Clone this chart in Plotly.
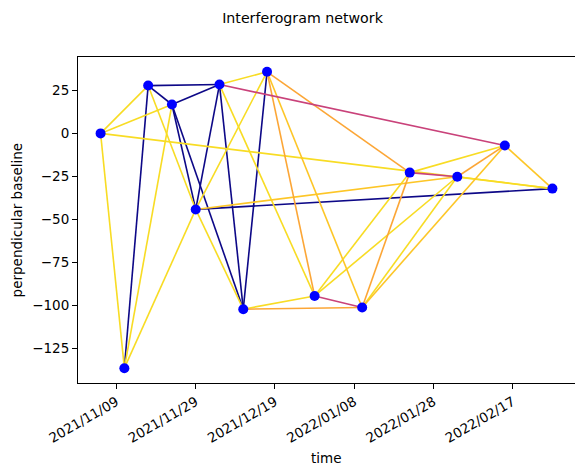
import plotly.graph_objects as go
import pandas as pd

# ---- data ----
dates = ["2021-11-05", "2021-11-11", "2021-11-17", "2021-11-23", "2021-11-29",
         "2021-12-05", "2021-12-11", "2021-12-17", "2021-12-29", "2022-01-10",
         "2022-01-22", "2022-02-03", "2022-02-15", "2022-02-27"]
bperp = [0.0, -136.5, 27.8, 16.8, -44.2, 28.4, -102.2, 35.8, -94.5, -101.2,
         -22.8, -25.2, -7.0, -32.1]

# interferogram pairs (1-based indices into dates) and their colour class
edge_start = [2, 3, 3, 4, 4, 4, 5, 6, 7, 5,
              1, 1, 1, 2, 2, 3, 5, 5, 6, 6, 7, 9, 9, 10, 11, 1, 12,
              8, 13, 5, 10,
              8, 8, 7, 10, 12,
              6, 9, 11]
edge_end = [3, 4, 6, 5, 6, 7, 6, 7, 8, 14,
            2, 3, 4, 4, 5, 5, 7, 8, 8, 9, 9, 11, 12, 12, 13, 14, 14,
            10, 14, 12, 13,
            9, 11, 10, 11, 13,
            13, 10, 12]
edge_class = ["low"] * 10 + ["top"] * 17 + ["high"] * 4 + ["mid"] * 5 + ["midlow"] * 3

class_colors = {
    "low": "#0d0887",
    "midlow": "#c9427a",
    "mid": "#fca636",
    "high": "#fdc627",
    "top": "#f8dc24",
}

x = pd.to_datetime(dates)
fig = go.Figure()

for s, e, c in zip(edge_start, edge_end, edge_class):
    fig.add_trace(go.Scatter(
        x=[x[s - 1], x[e - 1]], y=[bperp[s - 1], bperp[e - 1]],
        mode="lines", line=dict(color=class_colors[c], width=1.6),
        showlegend=False, hoverinfo="skip"))

fig.add_trace(go.Scatter(
    x=x, y=bperp, mode="markers",
    marker=dict(color="#0000ff", size=10, line=dict(width=0)),
    showlegend=False))

# matplotlib-like 5% margins
xmin, xmax = x.min(), x.max()
xspan = xmax - xmin
ymin, ymax = min(bperp), max(bperp)
yspan = ymax - ymin

tick_dates = pd.date_range("2021-11-09", periods=6, freq="20D")

font = dict(family="DejaVu Sans", size=13.5, color="#000000")

# the page body has an 8px default margin; work in figure coordinates
OFF = 8
W, H = 583 - OFF, 475 - OFF
L, R, T, B = 77.6 - OFF, 574.6 - OFF, 57.0 - OFF, 383.0 - OFF

fig.update_layout(
    width=W, height=H,
    margin=dict(l=L, r=W - R, t=T, b=H - B, autoexpand=False),
    paper_bgcolor="white", plot_bgcolor="white",
    font=font,
    title=dict(text="Interferogram network", x=(302.5 - OFF) / W, xref="container", xanchor="center",
               y=1 - (18 - OFF) / H, yref="container", yanchor="middle",
               font=dict(family="DejaVu Sans", size=14.2, color="#000000")),
    showlegend=False,
    xaxis=dict(
        type="date", automargin=False,
        range=[xmin - 0.05 * xspan, xmax + 0.05 * xspan],
        tickvals=list(tick_dates),
        ticktext=[d.strftime("%Y/%m/%d") for d in tick_dates],
        tickangle=-30,
        ticks="outside", ticklen=5, tickwidth=1, tickcolor="black",
        showgrid=False, zeroline=False,
        showline=True, mirror=True, linecolor="black", linewidth=1,
        tickfont=font,
    ),
    yaxis=dict(
        automargin=False,
        range=[ymin - 0.05 * yspan, ymax + 0.05 * yspan],
        tickvals=[-125, -100, -75, -50, -25, 0, 25],
        ticks="outside", ticklen=5, tickwidth=1, tickcolor="black",
        showgrid=False, zeroline=False,
        showline=True, mirror=True, linecolor="black", linewidth=1,
        tickfont=font,
    ),
    annotations=[
        dict(text="time", x=(326 - OFF - L) / (R - L), y=(B - (458 - OFF)) / (B - T),
             xref="paper", yref="paper",
             showarrow=False, xanchor="center", yanchor="middle", font=font),
        dict(text="perpendicular baseline", x=(17 - OFF - L) / (R - L), y=(B - (220 - OFF)) / (B - T),
             xref="paper", yref="paper",
             showarrow=False, xanchor="center", yanchor="middle", textangle=-90, font=font),
    ],
)

fig.write_html("out.html")
